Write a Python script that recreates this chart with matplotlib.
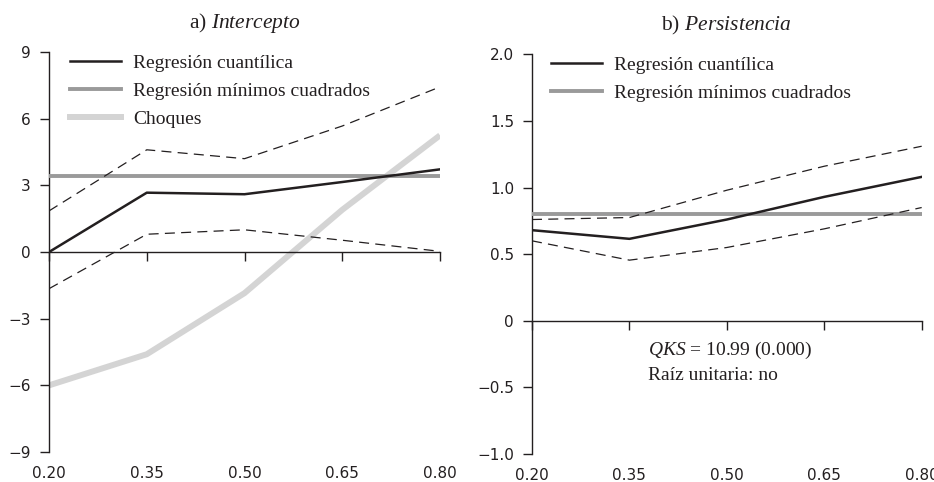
import matplotlib
matplotlib.use("Agg")
import matplotlib.pyplot as plt
from matplotlib.lines import Line2D

plt.rcParams['font.family'] = ['Liberation Serif', 'DejaVu Serif']
plt.rcParams['mathtext.fontset'] = 'custom'
plt.rcParams['mathtext.it'] = 'Liberation Serif:italic'
plt.rcParams['mathtext.rm'] = 'Liberation Serif'

# ---- data ----
quantiles = [0.20, 0.35, 0.50, 0.65, 0.80]
xtick_labels = ["0.20", "0.35", "0.50", "0.65", "0.80"]

# Panel a) Intercepto
a_qr = [0.0, 2.67, 2.6, 3.15, 3.72]
a_upper = [1.85, 4.6, 4.2, 5.67, 7.43]
a_lower = [-1.65, 0.8, 1.0, 0.53, 0.03]
a_ols = 3.4
a_shocks = [-6.0, -4.6, -1.85, 1.9, 5.25]
a_yticks = [-9, -6, -3, 0, 3, 6, 9]
a_yticklabels = ["\u22129", "\u22126", "\u22123", "0", "3", "6", "9"]

# Panel b) Persistencia
b_qr = [0.68, 0.615, 0.76, 0.93, 1.08]
b_upper = [0.76, 0.775, 0.98, 1.16, 1.31]
b_lower = [0.60, 0.455, 0.55, 0.69, 0.85]
b_ols = 0.80
b_yticks = [-1.0, -0.5, 0, 0.5, 1.0, 1.5, 2.0]
b_yticklabels = ["\u22121.0", "\u22120.5", "0", "0.5", "1.0", "1.5", "2.0"]

TXT = '#231f20'
C_QR = '#231f20'
C_OLS = '#9a9a9a'
C_SH = '#d4d4d4'

fig = plt.figure(figsize=(9.34, 4.82), dpi=100)
axA = fig.add_axes([0.0525, 0.0622, 0.4186, 0.8299])
axB = fig.add_axes([0.5696, 0.0581, 0.4172, 0.8292])

tick_font = dict(family='DejaVu Sans', size=11)
FS = 14


def style(ax, yticks, ylabels, ylim):
    ax.set_xlim(0.2, 0.8)
    ax.set_ylim(*ylim)
    for s in ['top', 'right']:
        ax.spines[s].set_visible(False)
    ax.spines['bottom'].set_position(('data', 0))
    for s in ['left', 'bottom']:
        ax.spines[s].set_linewidth(1.0)
        ax.spines[s].set_color(TXT)
    ax.set_yticks(yticks)
    ax.set_yticklabels(ylabels, fontdict=tick_font, color=TXT)
    ax.tick_params(axis='y', direction='out', length=6.5, width=1.0, pad=6.5, colors=TXT)
    ax.set_xticks(quantiles)
    ax.tick_params(axis='x', direction='out', length=6.5, width=1.0, labelbottom=False, colors=TXT)
    sec = ax.secondary_xaxis('bottom')
    sec.set_xticks(quantiles)
    sec.set_xticklabels(xtick_labels, fontdict=tick_font, color=TXT)
    sec.tick_params(length=0, pad=10)
    sec.spines['bottom'].set_visible(False)


style(axA, a_yticks, a_yticklabels, (-9, 9))
style(axB, b_yticks, b_yticklabels, (-1.0, 2.0))

dash = (8, 5)
# Panel a
axA.plot(quantiles, a_shocks, color=C_SH, lw=4.3, solid_capstyle='butt', zorder=2)
axA.axhline(a_ols, color=C_OLS, lw=2.8, zorder=3)
axA.plot(quantiles, a_upper, color=C_QR, lw=0.9, dashes=dash, zorder=4)
axA.plot(quantiles, a_lower, color=C_QR, lw=0.9, dashes=dash, zorder=4)
axA.plot(quantiles, a_qr, color=C_QR, lw=1.8, zorder=5)

# Panel b
axB.axhline(b_ols, color=C_OLS, lw=2.8, zorder=3)
axB.plot(quantiles, b_upper, color=C_QR, lw=0.9, dashes=dash, zorder=4)
axB.plot(quantiles, b_lower, color=C_QR, lw=0.9, dashes=dash, zorder=4)
axB.plot(quantiles, b_qr, color=C_QR, lw=1.8, zorder=5)

# legends
hA = [Line2D([], [], color=C_QR, lw=1.8),
      Line2D([], [], color=C_OLS, lw=2.8),
      Line2D([], [], color=C_SH, lw=4.3)]
lA = ["Regresión cuantílica", "Regresión mínimos cuadrados", "Choques"]
leg_kw = dict(loc='upper left', frameon=False, fontsize=FS, handlelength=2.63,
              handletextpad=0.62, labelspacing=0.53, borderaxespad=0)
legA = axA.legend(hA, lA, bbox_to_anchor=(0.034, 1.014), **leg_kw)
legB = axB.legend(hA[:2], lA[:2], bbox_to_anchor=(0.029, 1.015), **leg_kw)
for leg in (legA, legB):
    for t in leg.get_texts():
        t.set_color(TXT)

# titles
axA.set_title(r"a) $\mathit{Intercepto}$", fontsize=15.5, color=TXT, pad=17)
axB.set_title(r"b) $\mathit{Persistencia}$", fontsize=15.5, color=TXT, pad=17)

# annotation
axB.text(0.378, -0.22, r"$\mathit{QKS}$ = 10.99 (0.000)", fontsize=FS, color=TXT, va='center', ha='left')
axB.text(0.378, -0.41, "Raíz unitaria: no", fontsize=FS, color=TXT, va='center', ha='left')

fig.savefig("out.png", dpi=100)
